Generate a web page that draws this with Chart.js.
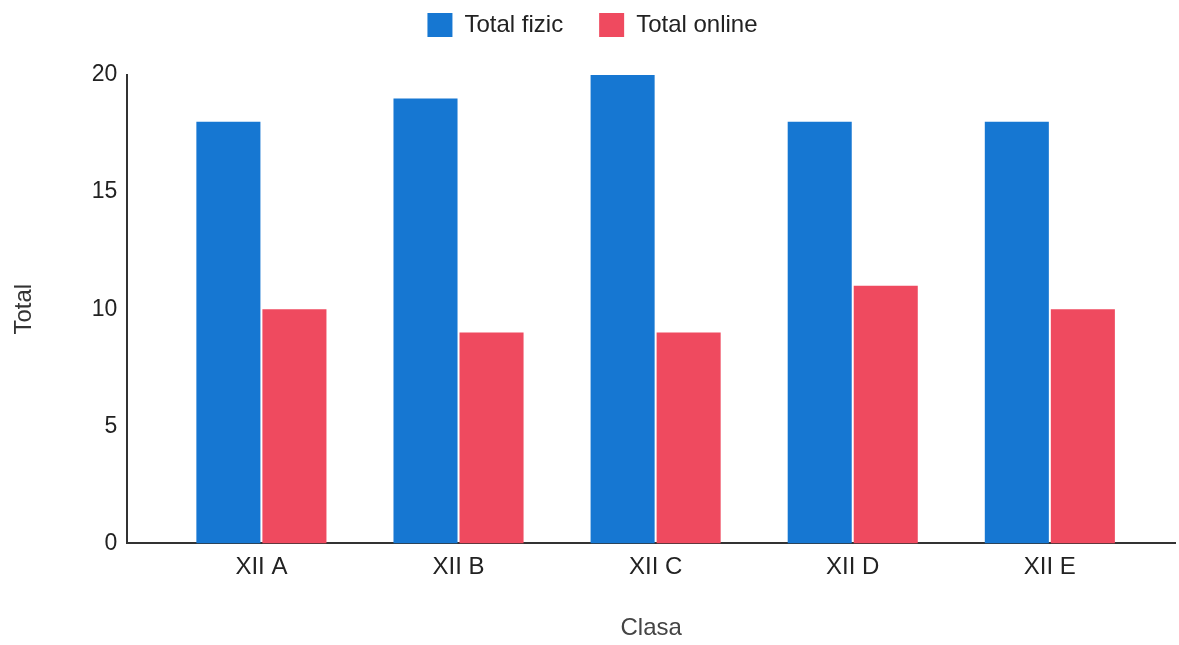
<!DOCTYPE html>
<html>
<head>
<meta charset="utf-8">
<style>
  html, body { margin: 0; padding: 0; background: #fff; }
  #wrap { width: 1179px; height: 645px; }
</style>
<script src="https://cdn.jsdelivr.net/npm/chart.js@4/dist/chart.umd.min.js"></script>
</head>
<body>
<div id="wrap"><canvas id="myChart"></canvas></div>
<script>
// Data
const categories = ['XII A', 'XII B', 'XII C', 'XII D', 'XII E'];
const totalFizic = [18, 19, 20, 18, 18];
const totalOnline = [10, 9, 9, 11, 10];
const yTicks = [0, 5, 10, 15, 20];

const toPoints = arr => arr.map((v, i) => ({ x: i, y: v }));

Chart.defaults.font.family = '"Liberation Sans", Arial, sans-serif';
Chart.defaults.color = '#333';

// push the plot area down under the legend
const legendSpace = {
  id: 'legendSpace',
  beforeInit(chart) {
    const fit = chart.legend.fit;
    chart.legend.fit = function () {
      fit.bind(chart.legend)();
      this.height = 98;
    };
  }
};

const ctx = document.getElementById('myChart').getContext('2d');

new Chart(ctx, {
  type: 'bar',
  data: {
    datasets: [{
      label: 'Total fizic',
      data: toPoints(totalFizic),
      backgroundColor: '#1677d2',
      borderWidth: 0,
      categoryPercentage: 0.67,
      barPercentage: 0.97
    }, {
      label: 'Total online',
      data: toPoints(totalOnline),
      backgroundColor: '#ef4a5f',
      borderWidth: 0,
      categoryPercentage: 0.67,
      barPercentage: 0.97
    }]
  },
  plugins: [legendSpace],
  options: {
    responsive: true,
    maintainAspectRatio: false,
    animation: false,
    layout: { padding: { top: -23, right: 4, bottom: 2, left: 10 } },
    plugins: {
      tooltip: { enabled: false },
      legend: {
        position: 'top',
        labels: {
          boxWidth: 25,
          boxHeight: 24,
          padding: 36,
          font: { size: 24 },
          color: '#222'
        }
      }
    },
    scales: {
      x: {
        type: 'linear',
        min: -0.68,
        max: 4.635,
        offset: false,
        grid: { display: false, drawTicks: false },
        border: { display: true, color: '#333', width: 2 },
        afterBuildTicks: scale => { scale.ticks = categories.map((c, i) => ({ value: i })); },
        ticks: {
          autoSkip: false,
          padding: 10,
          font: { size: 24 },
          color: '#222',
          callback: v => categories[v]
        },
        title: {
          display: true,
          text: 'Clasa',
          font: { size: 24 },
          color: '#444',
          padding: { top: 22, bottom: 0 }
        }
      },
      y: {
        min: 0,
        max: 20,
        grid: { display: false, drawTicks: false },
        border: { display: true, color: '#333', width: 2 },
        afterBuildTicks: scale => { scale.ticks = yTicks.map(v => ({ value: v })); },
        ticks: {
          padding: 10,
          font: { size: 23 },
          color: '#222'
        },
        title: {
          display: true,
          text: 'Total',
          font: { size: 24 },
          color: '#333',
          padding: { top: 0, bottom: 43 }
        }
      }
    }
  }
});
</script>
</body>
</html>
